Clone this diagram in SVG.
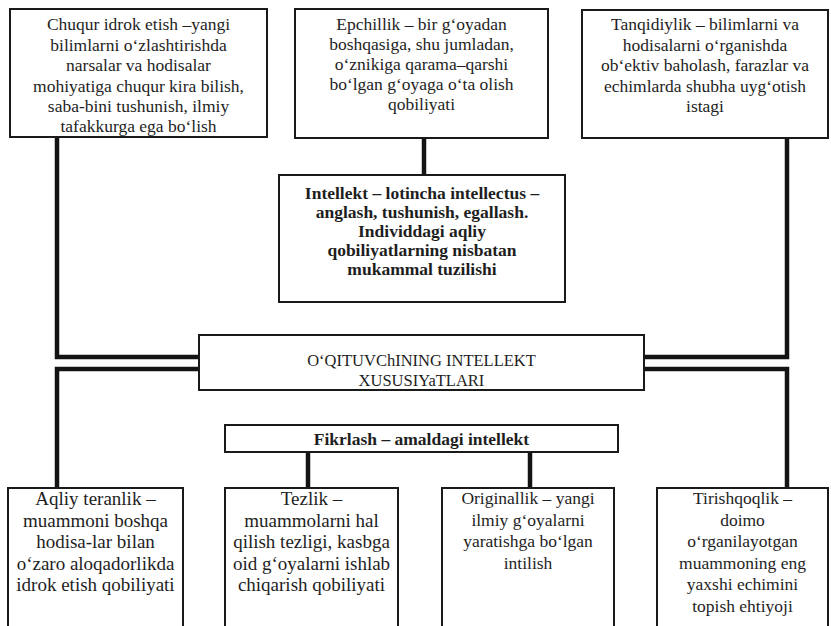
<svg xmlns="http://www.w3.org/2000/svg" width="831" height="626" viewBox="0 0 831 626">
<style>
.box{fill:#fff;stroke:#1a1a1a;stroke-width:2}
.t{font-family:'Liberation Serif','Times New Roman','DejaVu Serif',serif;font-size:17.5px;fill:#1e1e1e;text-anchor:middle}
.b{font-weight:bold}
.w{font-size:19px}
.m{font-size:16.5px}
.c{fill:none;stroke:#141414;stroke-width:4.5;stroke-linejoin:miter}
</style>
<rect x="0" y="0" width="831" height="626" fill="#fff"/>
<g id="connectors">
<polyline class="c" points="57,137 57,357 199,357"/>
<polyline class="c" points="787,138 787,357 644,357"/>
<line class="c" x1="424" y1="138" x2="424" y2="175"/>
<polyline class="c" points="199,369 57,369 57,488"/>
<polyline class="c" points="644,369 787,369 787,488"/>
<line class="c" x1="308" y1="452" x2="308" y2="488"/>
<line class="c" x1="530" y1="452" x2="530" y2="488"/>
</g>
<g id="chuqur">
<rect class="box" x="10" y="9" width="257" height="128"/>
<text class="t" x="138.5" y="30">Chuqur idrok etish –yangi</text>
<text class="t" x="138.5" y="50.5">bilimlarni o‘zlashtirishda</text>
<text class="t" x="138.5" y="71">narsalar va hodisalar</text>
<text class="t" x="138.5" y="91.5">mohiyatiga chuqur kira bilish,</text>
<text class="t" x="138.5" y="112">saba-bini tushunish, ilmiy</text>
<text class="t" x="138.5" y="132">tafakkurga ega bo‘lish</text>
</g>
<g id="epchillik">
<rect class="box" x="295" y="9" width="253" height="129"/>
<text class="t" x="421.5" y="30">Epchillik – bir g‘oyadan</text>
<text class="t" x="421.5" y="50">boshqasiga, shu jumladan,</text>
<text class="t" x="421.5" y="70">o‘znikiga qarama–qarshi</text>
<text class="t" x="421.5" y="90">bo‘lgan g‘oyaga o‘ta olish</text>
<text class="t" x="421.5" y="110">qobiliyati</text>
</g>
<g id="tanqidiylik">
<rect class="box" x="582" y="10" width="246" height="128"/>
<text class="t" x="705" y="30">Tanqidiylik – bilimlarni va</text>
<text class="t" x="705" y="50.5">hodisalarni o‘rganishda</text>
<text class="t" x="705" y="71">ob‘ektiv baholash, farazlar va</text>
<text class="t" x="705" y="91.5">echimlarda shubha uyg‘otish</text>
<text class="t" x="705" y="112">istagi</text>
</g>
<g id="intellekt">
<rect class="box" x="279" y="175" width="286" height="127"/>
<text class="t b" x="422" y="198.5">Intellekt – lotincha intellectus –</text>
<text class="t b" x="422" y="217.5">anglash, tushunish, egallash.</text>
<text class="t b" x="422" y="236.5">Individdagi aqliy</text>
<text class="t b" x="422" y="255.5">qobiliyatlarning nisbatan</text>
<text class="t b" x="422" y="274.5">mukammal tuzilishi</text>
</g>
<g id="xususiyatlari">
<rect class="box" x="199" y="335" width="445" height="55"/>
<text class="t m" x="421.5" y="366">O‘QITUVChINING INTELLEKT</text>
<text class="t m" x="421.5" y="385.5">XUSUSIYaTLARI</text>
</g>
<g id="fikrlash">
<rect class="box" x="225" y="425" width="393" height="27"/>
<text class="t b" x="421.5" y="444.5">Fikrlash – amaldagi intellekt</text>
</g>
<g id="teranlik">
<rect class="box" x="8" y="488" width="175" height="150"/>
<text class="t w" x="95.5" y="505">Aqliy teranlik –</text>
<text class="t w" x="95.5" y="526.5">muammoni boshqa</text>
<text class="t w" x="95.5" y="548">hodisa-lar bilan</text>
<text class="t w" x="95.5" y="569.5">o‘zaro aloqadorlikda</text>
<text class="t w" x="95.5" y="591">idrok etish qobiliyati</text>
</g>
<g id="tezlik">
<rect class="box" x="225" y="488" width="173" height="150"/>
<text class="t w" x="311.5" y="505">Tezlik –</text>
<text class="t w" x="311.5" y="526.5">muammolarni hal</text>
<text class="t w" x="311.5" y="548">qilish tezligi, kasbga</text>
<text class="t w" x="311.5" y="569.5">oid g‘oyalarni ishlab</text>
<text class="t w" x="311.5" y="591">chiqarish qobiliyati</text>
</g>
<g id="originallik">
<rect class="box" x="442" y="488" width="172" height="150"/>
<text class="t" x="528" y="504">Originallik – yangi</text>
<text class="t" x="528" y="525.5">ilmiy g‘oyalarni</text>
<text class="t" x="528" y="547">yaratishga bo‘lgan</text>
<text class="t" x="528" y="568.5">intilish</text>
</g>
<g id="tirishqoqlik">
<rect class="box" x="657" y="488" width="171" height="150"/>
<text class="t" x="742.5" y="504">Tirishqoqlik –</text>
<text class="t" x="742.5" y="525.5">doimo</text>
<text class="t" x="742.5" y="547">o‘rganilayotgan</text>
<text class="t" x="742.5" y="568.5">muammoning eng</text>
<text class="t" x="742.5" y="590">yaxshi echimini</text>
<text class="t" x="742.5" y="611.5">topish ehtiyoji</text>
</g>
</svg>
